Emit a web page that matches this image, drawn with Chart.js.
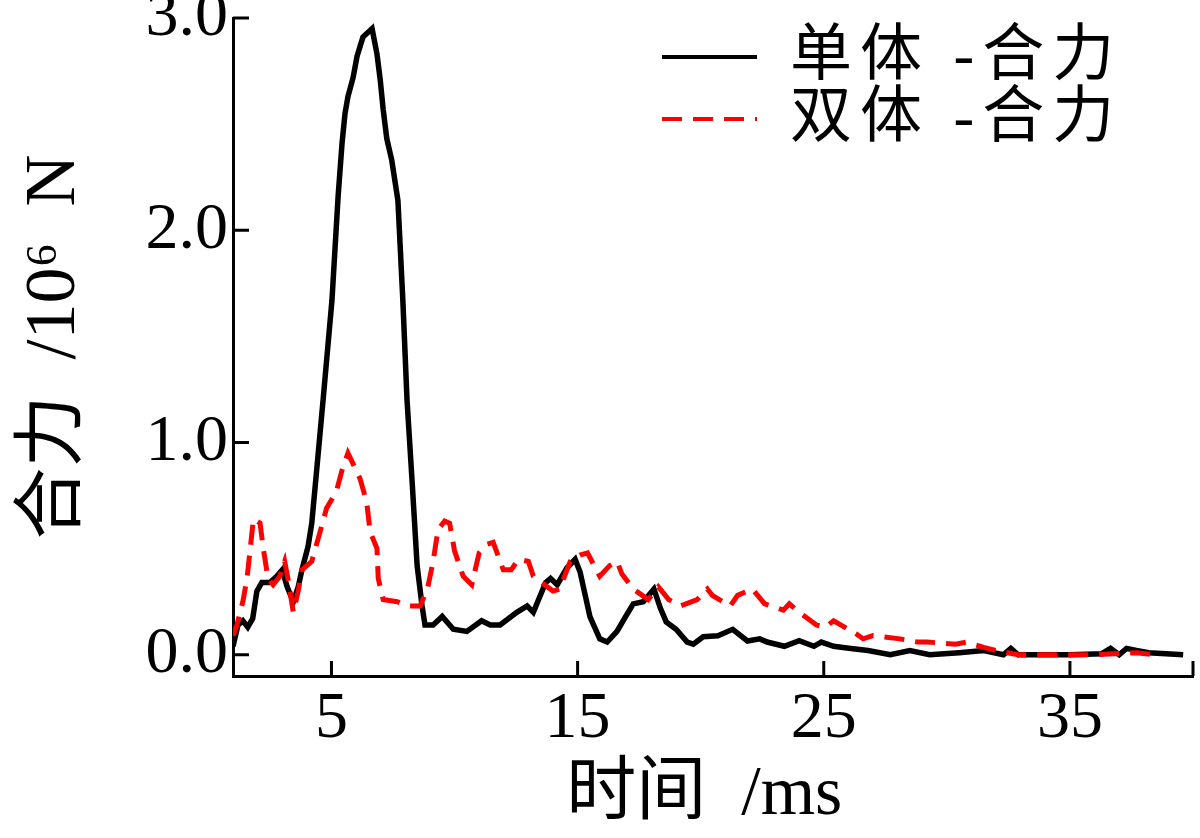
<!DOCTYPE html>
<html>
<head>
<meta charset="utf-8">
<script src="https://cdn.jsdelivr.net/npm/chart.js@4"></script>
<style>body{margin:0;background:#fff}</style>
</head>
<body>
<canvas id="force-chart" width="1200" height="838"></canvas>
<script>
// 单体 (single body) resultant force, time in ms, force in 10^6 N
const singleTime = [1.0, 1.2, 1.4, 1.6, 1.8, 1.97, 2.17, 2.5, 2.78, 3.0, 3.2, 3.45, 3.65, 3.8, 4.05, 4.2, 4.4, 4.66,
  5.02, 5.27, 5.43, 5.55, 5.67, 5.88, 6.04, 6.28, 6.65, 6.85, 6.98, 7.1, 7.25, 7.45, 7.7, 7.9,
  8.07, 8.28, 8.48, 8.68, 8.8, 9.13, 9.5, 9.95, 10.5, 11.1, 11.45, 11.85, 12.53, 12.95, 13.2,
  13.7, 13.9, 14.17, 14.57, 14.9, 15.1, 15.5, 15.9, 16.2, 16.6, 16.9, 17.26, 17.67, 18.1, 18.36, 18.6, 19.0,
  19.45, 19.7, 20.1, 20.7, 21.3, 21.9, 22.4, 22.7, 23.4, 24.0, 24.6, 24.9, 25.4, 26.1, 26.8, 27.7, 28.5, 29.3,
  30.5, 31.5, 32.3, 32.6, 32.9, 35.0, 36.3, 36.65, 37.0, 37.3, 37.7, 38.2, 39.6];
const singleForce = [0.04, 0.14, 0.16, 0.13, 0.17, 0.30, 0.34, 0.34, 0.37, 0.40, 0.32, 0.25, 0.32, 0.40, 0.51, 0.62, 0.87, 1.20,
  1.67, 2.16, 2.41, 2.55, 2.63, 2.72, 2.82, 2.91, 2.95, 2.83, 2.71, 2.57, 2.43, 2.33, 2.14, 1.67,
  1.20, 0.81, 0.42, 0.23, 0.14, 0.14, 0.18, 0.12, 0.11, 0.16, 0.14, 0.14, 0.20, 0.23, 0.20,
  0.34, 0.36, 0.33, 0.41, 0.45, 0.39, 0.18, 0.075, 0.06, 0.11, 0.17, 0.24, 0.25, 0.31, 0.22, 0.155, 0.12,
  0.06, 0.05, 0.085, 0.09, 0.12, 0.065, 0.075, 0.06, 0.04, 0.066, 0.04, 0.06, 0.04, 0.03, 0.02, 0.0, 0.02, 0.0,
  0.01, 0.02, 0.0, 0.03, 0.0, 0.0, 0.005, 0.03, 0.0, 0.03, 0.02, 0.01, 0.0];

// 双体 (twin body) resultant force
const doubleTime = [1.0, 1.16, 1.4, 1.57, 1.7, 1.83, 2.1, 2.22, 2.42, 2.63, 2.9, 3.1, 3.23, 3.45, 3.65, 3.8,
  4.2, 4.54, 4.8, 5.2, 5.43, 5.67, 6.16, 6.43, 6.57, 6.85, 6.9, 7.1, 7.67, 8.07, 8.6, 8.9, 9.13, 9.33, 9.6,
  9.8, 10.0, 10.35, 10.7, 11.0, 11.3, 11.57, 11.98, 12.3, 12.6, 13.0, 13.2, 14.0, 14.3, 14.4, 14.7, 15.1,
  15.4, 15.9, 16.3, 16.6, 16.8, 17.26, 17.87, 18.28, 18.7, 19.17, 19.86, 20.27, 20.47, 21.2, 21.5, 22.1, 22.6,
  23.36, 23.6, 23.9, 24.7, 25.06, 25.4, 26.3, 26.6, 27.0, 28.1, 28.8, 29.2, 30.35, 30.8, 31.5, 32.0, 32.9,
  35.0, 36.0, 37.7, 38.4];
const doubleForce = [0.09, 0.14, 0.25, 0.36, 0.50, 0.64, 0.62, 0.51, 0.36, 0.33, 0.37, 0.44, 0.36, 0.20, 0.30, 0.40,
  0.44, 0.58, 0.69, 0.77, 0.87, 0.95, 0.83, 0.72, 0.58, 0.50, 0.36, 0.26, 0.25, 0.23, 0.23, 0.31, 0.44, 0.59, 0.63,
  0.62, 0.49, 0.37, 0.33, 0.48, 0.52, 0.53, 0.40, 0.40, 0.45, 0.44, 0.37, 0.30, 0.31, 0.35, 0.44, 0.47,
  0.48, 0.37, 0.42, 0.44, 0.38, 0.31, 0.26, 0.32, 0.26, 0.23, 0.26, 0.31, 0.28, 0.23, 0.28, 0.31, 0.24,
  0.21, 0.24, 0.21, 0.14, 0.13, 0.16, 0.10, 0.075, 0.09, 0.075, 0.06, 0.06, 0.05, 0.06, 0.035, 0.02, 0.0,
  0.0, 0.0, 0.01, 0.0];

const xTicks = [5, 15, 25, 35];
const yTicks = [0, 1, 2, 3];
const seriesLabels = ['单体 -合力', '双体 -合力'];

const serif = "'Liberation Serif', 'Noto Sans CJK SC', serif";

// the original figure has short tick marks pointing into the plot
const innerTicks = {
  id: 'innerTicks',
  afterDraw(chart) {
    const {ctx, chartArea, scales} = chart;
    ctx.save();
    ctx.strokeStyle = '#000';
    ctx.lineWidth = 3;
    ctx.beginPath();
    [...xTicks, scales.x.max].forEach(v => {
      const px = scales.x.getPixelForValue(v);
      ctx.moveTo(px, chartArea.bottom);
      ctx.lineTo(px, chartArea.bottom - 15);
    });
    yTicks.forEach(v => {
      const py = scales.y.getPixelForValue(v);
      ctx.moveTo(chartArea.left, py);
      ctx.lineTo(chartArea.left + 16, py);
    });
    ctx.stroke();
    ctx.restore();
  }
};

// legend sits inside the top right corner
const cornerLegend = {
  id: 'cornerLegend',
  afterDraw(chart) {
    const ctx = chart.ctx;
    ctx.save();
    chart.data.datasets.forEach((ds, i) => {
      const y = 57 + i * 62;
      ctx.strokeStyle = ds.borderColor;
      ctx.lineWidth = 4;
      ctx.setLineDash(ds.borderDash || []);
      ctx.beginPath();
      ctx.moveTo(662, y);
      ctx.lineTo(757, y);
      ctx.stroke();
      ctx.setLineDash([]);
      ctx.fillStyle = '#000';
      ctx.font = '62px ' + serif;
      ctx.letterSpacing = '8px';
      ctx.textBaseline = 'middle';
      ctx.fillText(ds.label, 790, y + 2);
    });
    ctx.restore();
  }
};

const ctx = document.getElementById('force-chart').getContext('2d');
const forceChart = new Chart(ctx, {
  type: 'line',
  data: {
    datasets: [{
      label: seriesLabels[0],
      data: singleTime.map((t, i) => ({x: t, y: singleForce[i]})),
      borderColor: '#000000',
      borderWidth: 5.5,
      pointRadius: 0,
      tension: 0,
      order: 1
    }, {
      label: seriesLabels[1],
      data: doubleTime.map((t, i) => ({x: t, y: doubleForce[i]})),
      borderColor: '#ff0000',
      borderWidth: 5,
      borderDash: [20, 11],
      pointRadius: 0,
      tension: 0,
      order: 0
    }]
  },
  options: {
    responsive: false,
    animation: false,
    layout: {
      padding: {top: 18, right: 7, left: 0, bottom: 0}
    },
    plugins: {
      legend: {display: false},
      tooltip: {enabled: false}
    },
    scales: {
      x: {
        type: 'linear',
        min: 1,
        max: 40,
        afterBuildTicks: s => { s.ticks = xTicks.map(v => ({value: v})); },
        afterFit: s => { s.height = 162; s.paddingLeft = 0; s.paddingRight = 0; },
        grid: {display: false, drawTicks: false},
        border: {color: '#000', width: 3},
        ticks: {
          color: '#000',
          font: {family: serif, size: 66},
          padding: 4,
          maxRotation: 0,
          autoSkip: false
        },
        title: {
          display: true,
          text: '时间  /ms ',
          color: '#000',
          font: {family: serif, size: 70},
          padding: 0
        }
      },
      y: {
        min: -0.1,
        max: 3.0,
        afterBuildTicks: s => { s.ticks = yTicks.map(v => ({value: v})); },
        afterFit: s => { s.width = 233; s.paddingTop = 0; s.paddingBottom = 0; },
        grid: {display: false, drawTicks: false},
        border: {color: '#000', width: 3},
        ticks: {
          color: '#000',
          font: {family: serif, size: 66},
          padding: 5,
          callback: v => v.toFixed(1)
        },
        title: {
          display: true,
          text: '合力  /10⁶  N',
          color: '#000',
          font: {family: serif, size: 72},
          padding: {top: 12, bottom: 0}
        }
      }
    }
  },
  plugins: [innerTicks, cornerLegend]
});
</script>
</body>
</html>
